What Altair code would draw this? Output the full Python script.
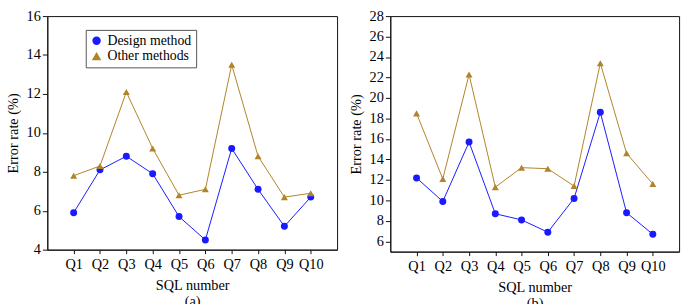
import altair as alt
import pandas as pd

# ---------------- data ----------------
queries = ["Q1", "Q2", "Q3", "Q4", "Q5", "Q6", "Q7", "Q8", "Q9", "Q10"]
series_names = ["Design method", "Other methods"]

a_design = [5.9, 8.1, 8.8, 7.9, 5.7, 4.5, 9.2, 7.1, 5.2, 6.7]
a_other = [7.8, 8.3, 12.1, 9.2, 6.8, 7.1, 13.5, 8.8, 6.7, 6.9]
b_design = [12.2, 9.9, 15.7, 8.7, 8.1, 6.9, 10.2, 18.6, 8.8, 6.7]
b_other = [18.5, 12.1, 22.3, 11.3, 13.2, 13.1, 11.4, 23.4, 14.6, 11.6]

a_ticks = [4, 6, 8, 10, 12, 14, 16]
b_ticks = [6, 8, 10, 12, 14, 16, 18, 20, 22, 24, 26, 28]
a_domain = [4, 16]
b_domain = [5, 28]
panel_tags = ["(a)", "(b)"]
x_title = "SQL number"
y_title = "Error rate (%)"

FONT = "Liberation Serif"


def make_df(design, other):
    return pd.DataFrame({
        "query": queries + queries,
        "value": design + other,
        "series": [series_names[0]] * len(queries) + [series_names[1]] * len(queries),
    })


def panel(design, other, domain, yticks, line_colors, shapes, width, height,
          legend_x, legend_y, tag):
    df = make_df(design, other)
    x = alt.X(
        "query:N", sort=queries,
        scale=alt.Scale(type="point", padding=1),
        axis=alt.Axis(title=[x_title, tag], labelAngle=0, tickSize=4,
                      labelPadding=4, titlePadding=8, grid=False),
    )
    y = alt.Y(
        "value:Q",
        scale=alt.Scale(domain=domain, nice=False, zero=False),
        axis=alt.Axis(values=yticks, tickSize=5, labelPadding=2, titlePadding=6,
                      title=y_title, grid=False),
    )
    color = alt.Color(
        "series:N",
        scale=alt.Scale(domain=series_names, range=line_colors),
        legend=alt.Legend(
            orient="none", legendX=legend_x, legendY=legend_y, title=None,
            labelFont=FONT, labelFontSize=14, labelColor="black",
            strokeColor="#555555", fillColor="white", padding=4,
            symbolSize=50,
        ),
    )
    shape = alt.Shape(
        "series:N",
        scale=alt.Scale(domain=series_names, range=shapes),
        legend=alt.Legend(
            orient="none", legendX=legend_x, legendY=legend_y, title=None,
            labelFont=FONT, labelFontSize=14, labelColor="black",
            strokeColor="#555555", fillColor="white", padding=4,
            symbolSize=50,
        ),
    )
    base = alt.Chart(df)
    lines = base.mark_line(strokeWidth=1).encode(x=x, y=y, color=color, detail="series:N")
    points = base.mark_point(filled=True, size=50, opacity=1).encode(x=x, y=y, color=color, shape=shape)
    return alt.layer(lines, points).properties(width=width, height=height)


chart_a = panel(a_design, a_other, a_domain, a_ticks, ["#1A1AFF", "#B08428"],
                ["circle", "triangle-up"], 294, 237, 39, 14, panel_tags[0])
chart_b = panel(b_design, b_other, b_domain, b_ticks, ["#FF66C4", "#1F5A85"],
                ["circle", "star"], 293, 239, 77, 12, panel_tags[1])

chart = (
    alt.hconcat(chart_a, chart_b, spacing=10)
    .configure_view(stroke="#111111")
    .configure_axis(
        labelFont=FONT, titleFont=FONT, labelFontSize=14.5, titleFontSize=14.5,
        labelColor="black", titleColor="black", titleFontWeight="normal",
        domainColor="#111111", tickColor="#111111",
    )
)

chart.save("out.html", embed_options={"renderer": "svg", "actions": False})
